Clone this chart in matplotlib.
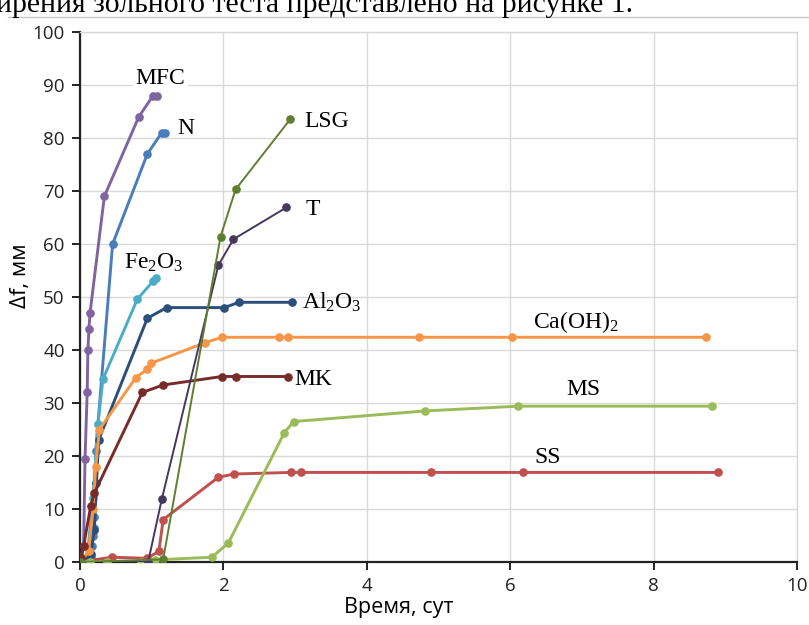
import matplotlib
matplotlib.use("Agg")
import matplotlib.pyplot as plt

plt.rcParams["mathtext.fontset"] = "custom"
plt.rcParams["mathtext.rm"] = "Liberation Serif"
plt.rcParams["mathtext.default"] = "rm"

# --- data (time in days, deflection in mm) ---
mfc_x = [0, 0.05, 0.07, 0.10, 0.11, 0.125, 0.14, 0.34, 0.82, 1.02, 1.07]
mfc_y = [0, 3, 19.4, 32, 40, 44, 47, 69, 84, 88, 88]

n_x = [0, 0.08, 0.15, 0.17, 0.18, 0.19, 0.20, 0.22, 0.455, 0.94, 1.14, 1.19]
n_y = [0, 0.5, 1, 3, 5, 6.5, 8.5, 21, 60, 77, 81, 81]

fe_x = [0, 0.10, 0.18, 0.25, 0.32, 0.80, 1.02, 1.06]
fe_y = [0, 1, 12, 26, 34.5, 49.6, 53, 53.5]

al_x = [0, 0.10, 0.15, 0.20, 0.23, 0.26, 0.94, 1.21, 2.01, 2.22, 2.96]
al_y = [0, 0.3, 1.5, 6, 15, 23, 46, 48, 48, 49, 49]

ca_x = [0, 0.12, 0.18, 0.22, 0.27, 0.78, 0.94, 0.99, 1.75, 1.98, 2.77, 2.90, 4.73, 6.03, 8.73]
ca_y = [0, 2, 10, 18, 25, 34.8, 36.4, 37.5, 41.4, 42.4, 42.4, 42.4, 42.4, 42.4, 42.4]

mk_x = [0, 0.02, 0.05, 0.15, 0.20, 0.87, 1.16, 1.98, 2.18, 2.90]
mk_y = [0, 0.8, 3, 10.6, 13, 32, 33.4, 35, 35, 35]

ss_x = [0, 0.44, 0.93, 1.10, 1.16, 1.93, 2.15, 2.94, 3.08, 4.90, 6.18, 8.90]
ss_y = [0, 0.9, 0.7, 2, 8, 16, 16.6, 16.9, 16.9, 16.9, 16.9, 16.9]

ms_x = [0, 0.14, 0.37, 0.85, 1.05, 1.84, 2.07, 2.85, 2.98, 4.81, 6.11, 8.81]
ms_y = [0, 0, 0, 0, 0.4, 0.9, 3.6, 24.4, 26.5, 28.5, 29.4, 29.4]

t_x = [0, 0.95, 1.14, 1.93, 2.14, 2.88]
t_y = [0, 0, 11.8, 56, 60.9, 66.9]

lsg_x = [0, 1.16, 1.96, 2.17, 2.93]
lsg_y = [0, 0.5, 61.4, 70.3, 83.5]

# (x, y, colour, line width)
series = [
    (mfc_x, mfc_y, "#8064A2", 2.1),
    (n_x, n_y, "#4A7EBB", 2.1),
    (fe_x, fe_y, "#4BACC6", 2.1),
    (al_x, al_y, "#2B4E7A", 2.1),
    (ca_x, ca_y, "#F79646", 2.1),
    (mk_x, mk_y, "#772C2A", 2.1),
    (ss_x, ss_y, "#C0504D", 2.1),
    (ms_x, ms_y, "#9BBB59", 2.1),
    (t_x, t_y, "#46375F", 1.4),
    (lsg_x, lsg_y, "#5F7F30", 1.4),
]

labels = [
    ("MFC", 1.12, 91.2),
    ("N", 1.47, 81.7),
    ("LSG", 3.44, 83.1),
    ("T", 3.25, 66.6),
    ("Fe$_2$O$_3$", 1.03, 56.4),
    ("Al$_2$O$_3$", 3.51, 48.9),
    ("Ca(OH)$_2$", 6.92, 45.3),
    ("MK", 3.25, 34.4),
    ("MS", 7.02, 32.6),
    ("SS", 6.52, 19.8),
]

fig = plt.figure(figsize=(8.09, 6.25), dpi=100)
ax = fig.add_axes([80 / 809, 1 - 562 / 625, 717 / 809, 530 / 625])

for xs, ys, col, lw in series:
    ax.plot(xs, ys, color=col, lw=lw, marker="o", ms=5.2, mec=col, mfc=col,
            solid_capstyle="round", zorder=3)

for txt, lx, ly in labels:
    bbox = None
    if txt == "MFC":
        bbox = dict(boxstyle="square,pad=0.1", fc="white", ec="none")
    ax.text(lx, ly, txt, fontsize=17, family="Liberation Serif",
            ha="center", va="center", color="black", bbox=bbox, zorder=4)

ax.set_xlim(0, 10)
ax.set_ylim(0, 100)
ax.set_xticks(range(0, 11, 2))
ax.set_yticks(range(0, 101, 10))
ax.grid(True, color="#D9D9D9", lw=1.0, zorder=0)
ax.set_axisbelow(True)

for side in ["top", "right"]:
    ax.spines[side].set_color("#D9D9D9")
    ax.spines[side].set_linewidth(1.0)
for side in ["left", "bottom"]:
    ax.spines[side].set_color("#222222")
    ax.spines[side].set_linewidth(1.6)

ax.tick_params(axis="both", direction="out", length=6, width=1.4,
               color="#222222", labelsize=13.5, labelcolor="#222222", pad=5)
for lab in ax.get_xticklabels() + ax.get_yticklabels():
    lab.set_family("Open Sans")

ax.set_xlabel("Время, сут", fontsize=15.5, family="Open Sans", va="center")
ax.xaxis.set_label_coords((399 - 80) / 717, -(608 - 562) / 530)
ax.set_ylabel("Δf, мм", fontsize=16, family="Open Sans")
ax.yaxis.set_label_coords(-0.069, (562 - 276) / 530)

# cropped line of the surrounding document text at the top
fig.text(-0.005, 1 - 12 / 625, "ирения зольного теста представлено на рисунке 1.",
         fontsize=21.4, family="Liberation Serif", ha="left", va="baseline")
fig.add_artist(plt.Line2D([8 / 809, 1], [1 - 17 / 625, 1 - 17 / 625],
                          color="#C8C8C8", lw=1.0))

fig.savefig("out.png", dpi=100)
